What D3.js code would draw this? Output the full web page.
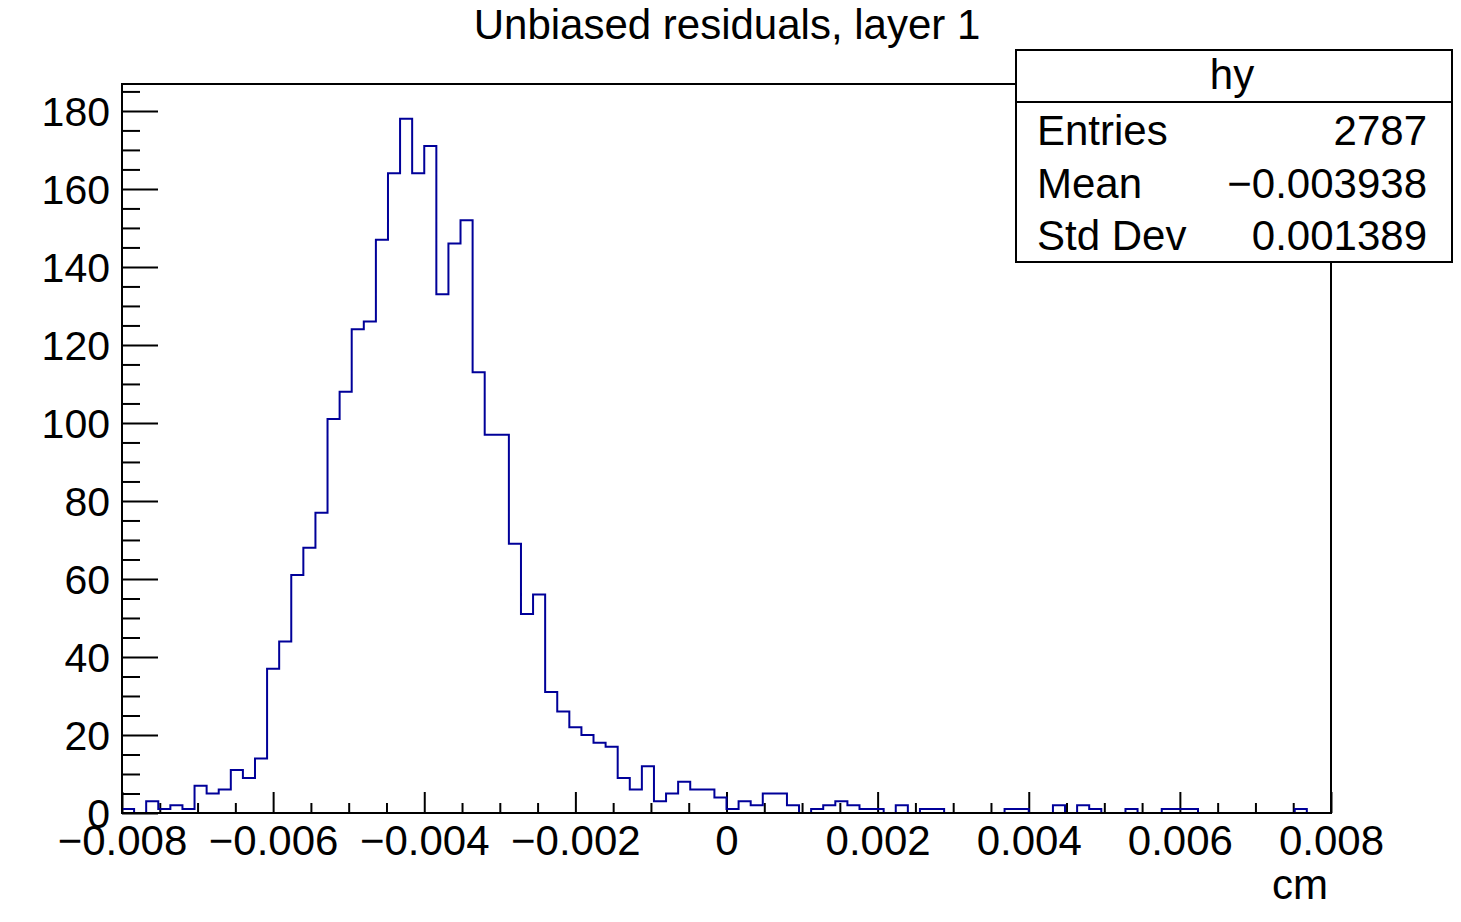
<!DOCTYPE html>
<html>
<head>
<meta charset="utf-8">
<script src="https://cdn.jsdelivr.net/npm/d3@7"></script>
<style>
  body { margin: 0; background: #fff; }
  text { font-family: "Liberation Sans", Arial, Helvetica, sans-serif; fill: #000; }
</style>
</head>
<body>
<div id="chart"></div>
<script>
// histogram definition: 100 bins between -0.008 and 0.008 cm
const X_MIN = -0.008;
const X_MAX = 0.008;
const binCounts = [
  1, 0, 3, 1, 2, 1, 7, 5, 6, 11,
  9, 14, 37, 44, 61, 68, 77, 101, 108, 124,
  126, 147, 164, 178, 164, 171, 133, 146, 152, 113,
  97, 97, 69, 51, 56, 31, 26, 22, 20, 18,
  17, 9, 6, 12, 3, 5, 8, 6, 6, 4,
  1, 3, 2, 5, 5, 2, 0, 1, 2, 3,
  2, 1, 1, 0, 2, 0, 1, 1, 0, 0,
  0, 0, 0, 1, 1, 0, 0, 2, 0, 2,
  1, 0, 0, 1, 0, 0, 1, 1, 1, 0,
  0, 0, 0, 0, 0, 0, 0, 1, 0, 0,
];

// axis ticks and labels
const xMajorTicks = [-0.008, -0.006, -0.004, -0.002, 0, 0.002, 0.004, 0.006, 0.008];
const xTickLabels = ["\u22120.008", "\u22120.006", "\u22120.004", "\u22120.002", "0", "0.002", "0.004", "0.006", "0.008"];
const yMajorTicks = [0, 20, 40, 60, 80, 100, 120, 140, 160, 180];

// texts
const title = "Unbiased residuals, layer 1";
const xTitle = "cm";
const statsName = "hy";
const statsLabels = ["Entries", "Mean", "Std Dev"];
const statsValues = ["2787", "\u22120.003938", "0.001389"];

const WIDTH = 1461;
const HEIGHT = 922;
const FRAME = { left: 122, right: 1331, top: 84, bottom: 813 };
const LINE_COLOR = "#000099";

const svg = d3
  .select("#chart")
  .append("svg")
  .attr("width", WIDTH)
  .attr("height", HEIGHT);

const x = d3.scaleLinear().domain([X_MIN, X_MAX]).range([FRAME.left, FRAME.right]);
const y = d3
  .scaleLinear()
  .domain([0, d3.max(binCounts) * 1.05])
  .range([FRAME.bottom, FRAME.top]);

const binWidth = (X_MAX - X_MIN) / binCounts.length;

// minor ticks
const xMinor = d3.range(X_MIN, X_MAX + binWidth / 2, 0.0005).filter(
  (v) => !xMajorTicks.some((m) => Math.abs(m - v) < 1e-9)
);
const yMinor = d3.range(0, y.domain()[1], 5).filter((v) => v % 20 !== 0);

// Title
svg
  .append("text")
  .attr("x", 727)
  .attr("y", 39)
  .attr("text-anchor", "middle")
  .attr("font-size", 42)
  .text(title);

// Y axis (ticks inside the frame)
svg
  .append("g")
  .attr("transform", `translate(${FRAME.left},0)`)
  .call(d3.axisLeft(y).tickValues(yMinor).tickSize(-18).tickFormat(""))
  .call((g) => g.select(".domain").remove())
  .call((g) => g.selectAll("line").attr("stroke-width", 2));

svg
  .append("g")
  .attr("transform", `translate(${FRAME.left},0)`)
  .call(d3.axisLeft(y).tickValues(yMajorTicks).tickSize(-36).tickPadding(12))
  .call((g) => g.select(".domain").remove())
  .call((g) => g.selectAll("line").attr("stroke-width", 2))
  .call((g) =>
    g
      .selectAll("text")
      .attr("font-size", 41)
      .attr("font-family", null)
      .attr("dy", "0.35em")
  );

// X axis (ticks inside the frame)
svg
  .append("g")
  .attr("transform", `translate(0,${FRAME.bottom})`)
  .call(d3.axisBottom(x).tickValues(xMinor).tickSize(-10).tickFormat(""))
  .call((g) => g.select(".domain").remove())
  .call((g) => g.selectAll("line").attr("stroke-width", 2));

svg
  .append("g")
  .attr("transform", `translate(0,${FRAME.bottom})`)
  .call(
    d3
      .axisBottom(x)
      .tickValues(xMajorTicks)
      .tickSize(-21)
      .tickPadding(12)
      .tickFormat((d, i) => xTickLabels[i])
  )
  .call((g) => g.select(".domain").remove())
  .call((g) => g.selectAll("line").attr("stroke-width", 2))
  .call((g) => g.selectAll("text").attr("font-size", 42).attr("font-family", null));

// X axis title
svg
  .append("text")
  .attr("x", 1328)
  .attr("y", 899)
  .attr("text-anchor", "end")
  .attr("font-size", 42)
  .text(xTitle);

// Histogram outline
const pts = [[x(X_MIN), y(0)]];
binCounts.forEach((c, i) => {
  const x0 = x(X_MIN + i * binWidth);
  const x1 = x(X_MIN + (i + 1) * binWidth);
  pts.push([x0, y(c)], [x1, y(c)]);
});
pts.push([x(X_MAX), y(0)]);

svg
  .append("path")
  .attr("d", d3.line()(pts))
  .attr("fill", "none")
  .attr("stroke", LINE_COLOR)
  .attr("stroke-width", 2);

// Frame
svg
  .append("rect")
  .attr("x", FRAME.left)
  .attr("y", FRAME.top)
  .attr("width", FRAME.right - FRAME.left)
  .attr("height", FRAME.bottom - FRAME.top)
  .attr("fill", "none")
  .attr("stroke", "#000")
  .attr("stroke-width", 2);

// Stats box
const stats = svg.append("g").attr("class", "stats");
stats
  .append("rect")
  .attr("x", 1016)
  .attr("y", 50)
  .attr("width", 436)
  .attr("height", 212)
  .attr("fill", "#fff")
  .attr("stroke", "#000")
  .attr("stroke-width", 2);
stats
  .append("line")
  .attr("x1", 1016)
  .attr("x2", 1452)
  .attr("y1", 102)
  .attr("y2", 102)
  .attr("stroke", "#000")
  .attr("stroke-width", 2);
stats
  .append("text")
  .attr("x", 1232)
  .attr("y", 89)
  .attr("text-anchor", "middle")
  .attr("font-size", 42)
  .text(statsName);
stats
  .selectAll("g.row")
  .data(statsLabels)
  .join("g")
  .attr("class", "row")
  .attr("transform", (d, i) => `translate(0,${145 + i * 52.5})`)
  .call((g) =>
    g
      .append("text")
      .attr("x", 1037)
      .attr("font-size", 42)
      .text((d) => d)
  )
  .call((g) =>
    g
      .append("text")
      .attr("x", 1427)
      .attr("text-anchor", "end")
      .attr("font-size", 42)
      .text((d, i) => statsValues[i])
  );
</script>
</body>
</html>
